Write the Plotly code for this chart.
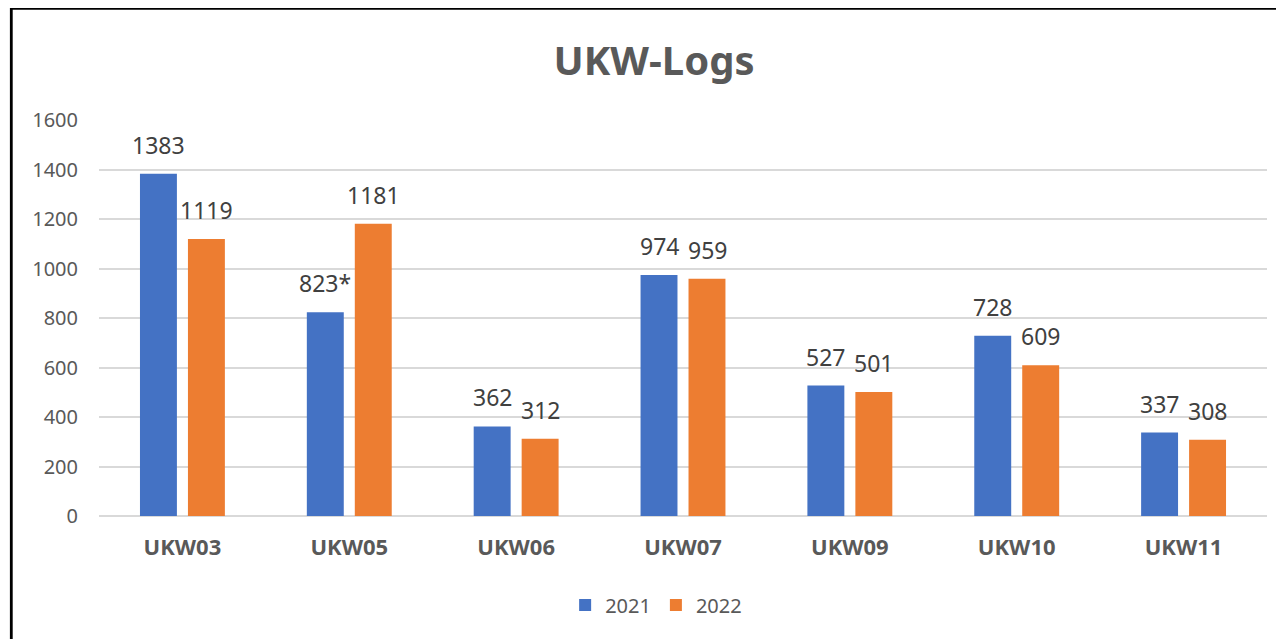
import plotly.graph_objects as go

weeks = ["UKW03", "UKW05", "UKW06", "UKW07", "UKW09", "UKW10", "UKW11"]
logs_2021 = [1383, 823, 362, 974, 527, 728, 337]
logs_2022 = [1119, 1181, 312, 959, 501, 609, 308]
labels_2021 = ["1383", "823*", "362", "974", "527", "728", "337"]
labels_2022 = [str(v) for v in logs_2022]
y_ticks = [0, 200, 400, 600, 800, 1000, 1200, 1400, 1600]

FONT = "Noto Sans, Open Sans, Arial, sans-serif"
GREY = "#595959"
LABEL_GREY = "#404040"

# the page sits 8px in from the window corner, so layout is shifted back by 8
ML, MT = 91, 112
PW, PH = 1168, 396

fig = go.Figure()

fig.add_trace(
    go.Bar(
        x=weeks,
        y=logs_2021,
        name="2021",
        marker=dict(color="#4472C4", line=dict(width=0)),
    )
)

fig.add_trace(
    go.Bar(
        x=weeks,
        y=logs_2022,
        name="2022",
        marker=dict(color="#ED7D31", line=dict(width=0)),
    )
)

# value labels sitting above each bar
for week, v1, t1, v2, t2 in zip(weeks, logs_2021, labels_2021, logs_2022, labels_2022):
    for val, txt, dx in ((v1, t1, -24), (v2, t2, 24)):
        fig.add_annotation(
            x=week,
            y=val,
            text=txt,
            showarrow=False,
            xshift=dx,
            yshift=11,
            yanchor="bottom",
            font=dict(size=23, color=LABEL_GREY, family=FONT),
        )

fig.update_layout(
    width=1284,
    height=639,
    margin=dict(l=ML, r=1284 - ML - PW, t=MT, b=639 - MT - PH),
    paper_bgcolor="white",
    plot_bgcolor="white",
    font=dict(family=FONT, color=GREY),
    title=dict(
        text="<b>UKW-Logs</b>",
        x=646 / 1284,
        xanchor="center",
        y=1 - 53 / 639,
        yanchor="middle",
        font=dict(size=40, color=GREY, family=FONT),
    ),
    barmode="group",
    bargap=0.425,
    bargroupgap=0.23,
    showlegend=True,
    legend=dict(
        orientation="h",
        x=0.477,
        xanchor="center",
        y=-0.225,
        yanchor="middle",
        font=dict(size=20, color=GREY),
        traceorder="normal",
    ),
)

fig.update_yaxes(
    range=[0, 1600],
    tickvals=y_ticks,
    showgrid=True,
    gridcolor="#D9D9D9",
    gridwidth=1.5,
    zeroline=True,
    zerolinecolor="#D9D9D9",
    zerolinewidth=2,
    showline=False,
    tickfont=dict(size=20, color=GREY),
    ticklabelstandoff=20,
)

fig.update_xaxes(
    showline=False,
    showgrid=False,
    tickfont=dict(size=22, color=GREY),
    tickprefix="<b>",
    ticksuffix="</b>",
    ticklabelstandoff=16,
)

# black frame round the chart, running off the right and bottom edges
fig.add_shape(
    type="rect",
    xref="paper",
    yref="paper",
    x0=(3.3 - ML) / PW,
    x1=(1320 - ML) / PW,
    y0=-(680 - MT - PH) / PH,
    y1=1 + (MT - 0.3) / PH,
    line=dict(color="black", width=2.8),
    fillcolor="rgba(0,0,0,0)",
    layer="above",
)

fig.write_html("out.html")
